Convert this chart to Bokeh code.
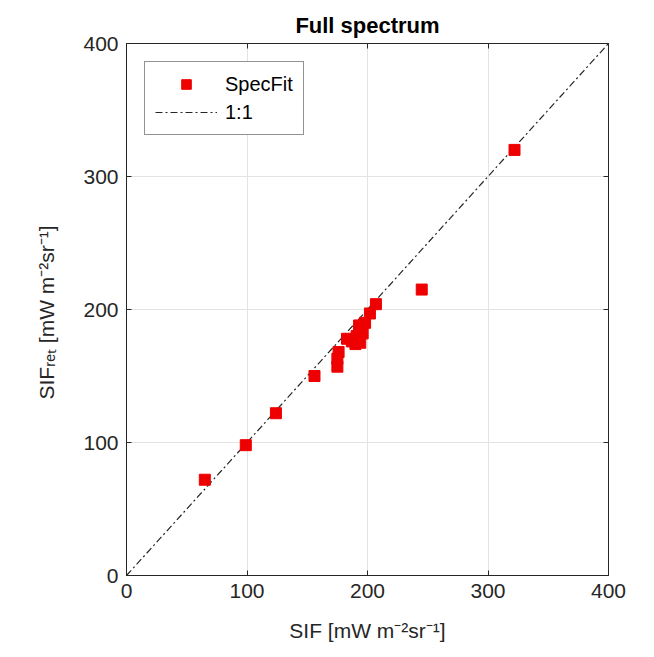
from bokeh.plotting import figure
from bokeh.models import Range1d, LinearAxis, FixedTicker, Legend, LegendItem
from bokeh.embed import file_html
from bokeh.resources import INLINE

sif = [65, 99, 124, 156, 175, 175, 176, 183, 187, 190, 191, 193, 193, 194, 196, 198, 202, 207, 245, 322]
sif_ret = [72, 98, 122, 150, 157, 163, 168, 178, 176, 174, 180, 183, 188, 175, 182, 190, 197, 204, 215, 320]
line_x = [0, 400]
line_y = [0, 400]
ticks = [0, 100, 200, 300, 400]

FONT = "Liberation Sans"
p = figure(width=654, height=657, output_backend="svg", toolbar_location=None,
           x_range=Range1d(0, 400), y_range=Range1d(0, 400),
           min_border_left=126, min_border_right=46, min_border_top=43, min_border_bottom=82,
           x_axis_label="SIF [mW m\u207b\u00b2sr\u207b\u00b9]",
           y_axis_label="SIF\u1d63\u2091\u209c  [mW m\u207b\u00b2sr\u207b\u00b9]")
p.title.text = "Full spectrum"
p.title.align = "center"
p.title.text_font = FONT
p.title.text_font_size = "22px"
p.title.text_font_style = "bold"
p.title.text_color = "#000000"
p.title.standoff = 12

p.outline_line_color = "#262626"
p.outline_line_width = 1
p.grid.ticker = FixedTicker(ticks=ticks)
p.grid.grid_line_color = "#e3e3e3"
p.grid.grid_line_width = 1

for ax in p.xaxis + p.yaxis:
    ax.ticker = FixedTicker(ticks=ticks)
    ax.major_tick_in = 5
    ax.major_tick_out = 0
    ax.minor_tick_line_color = None
    ax.axis_line_color = "#262626"
    ax.major_tick_line_color = "#262626"
    ax.major_label_text_font = FONT
    ax.major_label_text_font_size = "21px"
    ax.major_label_text_color = "#262626"
    ax.axis_label_text_font = FONT
    ax.axis_label_text_font_size = "21px"
    ax.axis_label_text_font_style = "normal"
    ax.axis_label_text_color = "#262626"
p.xaxis.major_label_standoff = 8
p.xaxis.axis_label_standoff = 18
p.yaxis.major_label_standoff = 8
p.yaxis.axis_label_standoff = 22

for loc in ("above", "right"):
    a = LinearAxis(ticker=FixedTicker(ticks=ticks), major_tick_in=5, major_tick_out=0,
                   minor_tick_line_color=None,
                   major_label_overrides={t: "" for t in ticks},
                   axis_line_color="#262626", major_tick_line_color="#262626")
    p.add_layout(a, loc)

ln = p.line(line_x, line_y, line_color="#262626", line_width=1.2, line_dash="7 3 2 3")
sc = p.scatter(sif, sif_ret, marker="square", size=11, fill_color="#ee0000", line_color="#ee0000")

legend = Legend(items=[LegendItem(label="SpecFit", renderers=[sc]),
                       LegendItem(label="1:1", renderers=[ln])],
                location="top_left")
legend.label_text_font = FONT
legend.label_text_font_size = "20px"
legend.label_text_color = "#000000"
legend.border_line_color = "#262626"
legend.border_line_width = 1.2
legend.margin = 18
legend.padding = 10
legend.spacing = 4
legend.glyph_width = 62
legend.glyph_height = 24
legend.label_height = 24
legend.label_standoff = 8
legend.background_fill_alpha = 1.0
p.add_layout(legend)

open("out.html", "w").write(file_html(p, INLINE))
